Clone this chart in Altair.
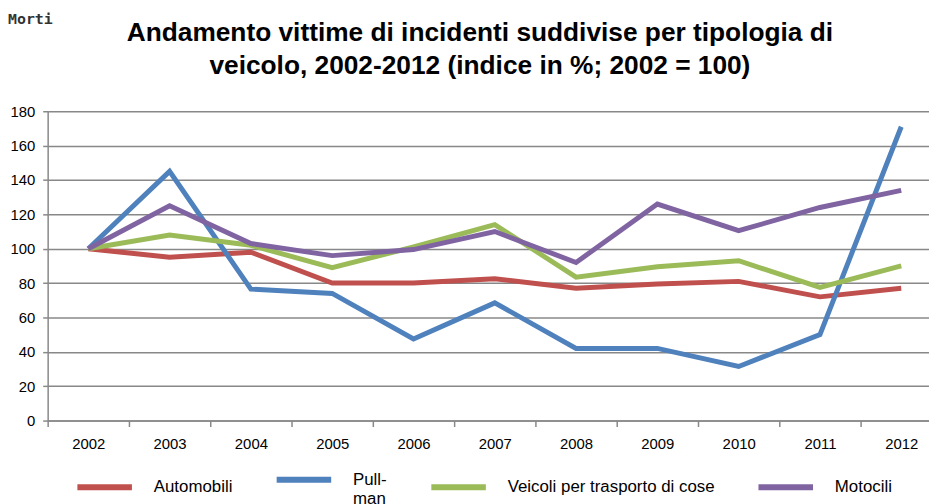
import altair as alt
import pandas as pd

years = ["2002", "2003", "2004", "2005", "2006", "2007", "2008", "2009", "2010", "2011", "2012"]
series_names = ["Automobili", "Pullman", "Veicoli per trasporto di cose", "Motocili"]
automobili = [100, 95, 98, 80, 80, 82.5, 77, 79.5, 81, 72, 77]
pullman = [100, 145, 76.5, 74, 47.5, 68.5, 42, 42, 31.5, 50, 171]
veicoli = [100, 108, 102, 89, 101, 114, 83.5, 89.5, 93, 77.5, 90]
motocili = [100, 125, 103, 96, 99.5, 110, 92, 126, 110.5, 124, 134]
colors = ["#C0504D", "#4F81BD", "#9BBB59", "#8064A2"]
title_lines = "Andamento vittime di incidenti suddivise per tipologia di\nveicolo, 2002-2012 (indice in %; 2002 = 100)"
corner_label = "Morti"

rows = []
for name, vals in zip(series_names, [automobili, pullman, veicoli, motocili]):
    for y, v in zip(years, vals):
        rows.append({"Anno": y, "Serie": name, "Indice": v})
df = pd.DataFrame(rows)

FONT = "Liberation Sans"

label_expr = "datum.label == 'Pullman' ? ['Pull-', 'man'] : datum.label"

lines = alt.Chart(df).mark_line(strokeWidth=5, strokeJoin="miter", strokeCap="butt").encode(
    x=alt.X("Anno:N", sort=years, title=None,
            scale=alt.Scale(range=[0, 902], paddingInner=0, paddingOuter=0),
            axis=alt.Axis(labelAngle=0, tickBand="extent", grid=False, labelFontSize=15,
                          labelPadding=10, tickSize=6, domainColor="#888888", tickColor="#888888",
                          domainWidth=1.5, tickWidth=1.5, labelColor="#000000", labelFont=FONT)),
    y=alt.Y("Indice:Q", title=None,
            scale=alt.Scale(domain=[0, 180], nice=False),
            axis=alt.Axis(values=list(range(0, 181, 20)), labelFontSize=15, labelPadding=8,
                          tickSize=5, gridColor="#888888", gridWidth=1.5, domainColor="#888888",
                          tickColor="#888888", domainWidth=1.5, tickWidth=1.5,
                          labelColor="#000000", labelFont=FONT)),
    color=alt.Color("Serie:N", sort=series_names,
                    scale=alt.Scale(domain=series_names, range=colors),
                    legend=alt.Legend(title=None, orient="none", direction="horizontal",
                                      legendX=27, legendY=341, symbolType="stroke",
                                      symbolSize=3025, symbolStrokeWidth=6,
                                      labelFontSize=17, labelFont=FONT, labelColor="#000000",
                                      labelOffset=19, columnPadding=32, labelLimit=400,
                                      labelExpr=label_expr)),
)

title = alt.Chart(pd.DataFrame({"t": [title_lines]})).mark_text(
    align="center", baseline="middle", fontSize=26.5, font=FONT, fontWeight="bold",
    color="#000000", lineBreak="\n", lineHeight=33
).encode(x=alt.value(436), y=alt.value(-79), text="t:N")

morti = alt.Chart(pd.DataFrame({"t": [corner_label]})).mark_text(
    align="left", baseline="middle", fontSize=15, font="DejaVu Sans Mono", fontWeight="bold",
    color="#333333"
).encode(x=alt.value(-40), y=alt.value(-93), text="t:N")

chart = alt.layer(lines, title, morti).properties(
    width=889, height=312,
    autosize=alt.AutoSizeParams(type="none"),
    padding={"left": 40, "top": 102, "right": 0, "bottom": 82},
).configure_view(stroke=None)

chart.save("out.html", embed_options={"renderer": "svg", "actions": False})
